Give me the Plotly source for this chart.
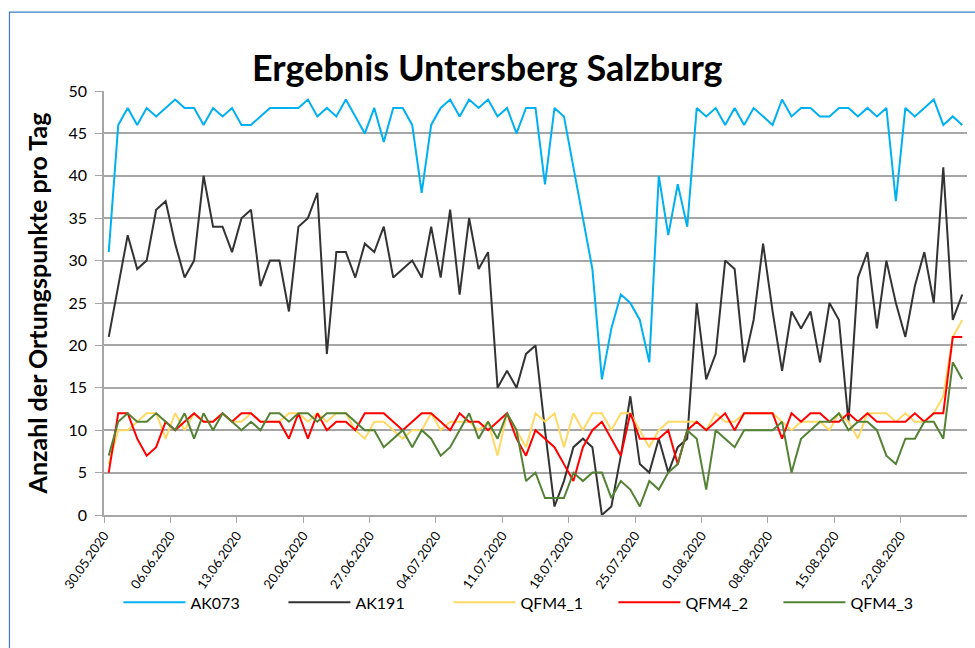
import datetime as dt
import plotly.graph_objects as go

start = dt.date(2020, 5, 30)
dates = [start + dt.timedelta(days=i) for i in range(91)]

AK073 = [31, 46, 48, 46, 48, 47, 48, 49, 48, 48, 46, 48, 47, 48, 46, 46, 47, 48, 48, 48, 48, 49, 47,
         48, 47, 49, 47, 45, 48, 44, 48, 48, 46, 38, 46, 48, 49, 47, 49, 48, 49, 47, 48, 45, 48, 48,
         39, 48, 47, 41, 35, 29, 16, 22, 26, 25, 23, 18, 40, 33, 39, 34, 48, 47, 48, 46, 48, 46,
         48, 47, 46, 49, 47, 48, 48, 47, 47, 48, 48, 47, 48, 47, 48, 37, 48, 47, 48, 49, 46, 47, 46]
AK191 = [21, 27, 33, 29, 30, 36, 37, 32, 28, 30, 40, 34, 34, 31, 35, 36, 27, 30, 30, 24, 34, 35, 38,
         19, 31, 31, 28, 32, 31, 34, 28, 29, 30, 28, 34, 28, 36, 26, 35, 29, 31, 15, 17, 15, 19, 20,
         10, 1, 4, 8, 9, 8, 0, 1, 7, 14, 6, 5, 9, 5, 8, 9, 25, 16, 19, 30, 29, 18,
         23, 32, 24, 17, 24, 22, 24, 18, 25, 23, 11, 28, 31, 22, 30, 25, 21, 27, 31, 25, 41, 23, 26]
QFM4_1 = [6, 10, 10, 11, 12, 12, 9, 12, 10, 12, 11, 11, 12, 11, 11, 12, 11, 11, 11, 12, 12, 11, 12,
          11, 12, 12, 10, 9, 11, 11, 10, 9, 10, 10, 12, 10, 11, 11, 11, 10, 11, 7, 12, 10, 8, 12,
          11, 12, 8, 12, 10, 12, 12, 10, 12, 12, 10, 8, 10, 11, 11, 11, 11, 10, 12, 11, 11, 12,
          12, 12, 12, 11, 10, 11, 11, 11, 10, 12, 11, 9, 12, 12, 12, 11, 12, 11, 11, 12, 14, 21, 23]
QFM4_2 = [5, 12, 12, 9, 7, 8, 11, 10, 11, 12, 11, 11, 12, 11, 12, 12, 11, 11, 11, 9, 12, 9, 12,
          10, 11, 11, 10, 12, 12, 12, 11, 10, 11, 12, 12, 11, 10, 12, 11, 11, 10, 11, 12, 9, 7, 10,
          9, 8, 6, 4, 8, 10, 11, 9, 7, 12, 9, 9, 9, 10, 6, 10, 11, 10, 11, 12, 10, 12,
          12, 12, 12, 9, 12, 11, 12, 12, 11, 11, 12, 11, 12, 11, 11, 11, 11, 12, 11, 12, 12, 21, 21]
QFM4_3 = [7, 11, 12, 11, 11, 12, 11, 10, 12, 9, 12, 10, 12, 11, 10, 11, 10, 12, 12, 11, 12, 12, 11,
          12, 12, 12, 11, 10, 10, 8, 9, 10, 8, 10, 9, 7, 8, 10, 12, 9, 11, 9, 12, 10, 4, 5,
          2, 2, 2, 5, 4, 5, 5, 2, 4, 3, 1, 4, 3, 5, 6, 10, 9, 3, 10, 9, 8, 10,
          10, 10, 10, 11, 5, 9, 10, 11, 11, 12, 10, 11, 11, 10, 7, 6, 9, 9, 11, 11, 9, 18, 16]

series = [("AK073", AK073, "#00B0F0"), ("AK191", AK191, "#333333"),
          ("QFM4_1", QFM4_1, "#FFD966"), ("QFM4_2", QFM4_2, "#FF0000"),
          ("QFM4_3", QFM4_3, "#548235")]

tick_dates = [start + dt.timedelta(days=7 * k) for k in range(13)]
tick_vals = [dt.datetime.combine(d, dt.time()) - dt.timedelta(hours=12) for d in tick_dates]
tick_text = [d.strftime("%d.%m.%Y") for d in tick_dates]

fig = go.Figure()
for name, vals, col in series:
    fig.add_trace(go.Scatter(x=dates, y=vals, name=name, mode="lines",
                             line=dict(color=col, width=2)))

L, R, T, B = 103.6, 8, 91, 132.5
W, H = 975, 648
pw, ph = W - L - R, H - T - B

x0 = dt.datetime.combine(start, dt.time()) - dt.timedelta(hours=12)
x1 = dt.datetime.combine(dates[-1], dt.time()) + dt.timedelta(hours=12)

fig.update_layout(
    width=W, height=H,
    margin=dict(l=L, r=R, t=T, b=B, pad=0),
    paper_bgcolor="white", plot_bgcolor="white",
    font=dict(family="Lato, sans-serif", color="#000000"),
    showlegend=True,
    legend=dict(orientation="h", x=(118 - L) / pw, xanchor="left",
                y=-(603 - (H - B)) / ph, yanchor="middle",
                font=dict(size=16), itemwidth=62, entrywidth=88, entrywidthmode="pixels",
                bgcolor="rgba(0,0,0,0)"),
    xaxis=dict(range=[x0, x1], tickmode="array", tickvals=tick_vals, ticktext=tick_text,
               tickangle=-55, tickfont=dict(size=13), showgrid=False,
               showline=True, linecolor="#A6A6A6", linewidth=1.5,
               ticks="outside", ticklen=6, tickcolor="#A6A6A6", zeroline=False),
    yaxis=dict(range=[0, 50], tickvals=list(range(0, 51, 5)), tickfont=dict(size=16),
               showgrid=True, gridcolor="#A6A6A6", gridwidth=1.5,
               showline=True, linecolor="#A6A6A6", linewidth=1.5,
               ticks="outside", ticklen=7, tickcolor="#A6A6A6", zeroline=False,
               ticklabelstandoff=5,
               title=dict(text="<b>Anzahl der Ortungspunkte pro Tag</b>",
                          font=dict(size=25), standoff=14)),
    annotations=[dict(text="<b>Ergebnis Untersberg Salzburg</b>", xref="paper", yref="paper",
                      x=(487 - L) / pw, y=1 + (T - 67) / ph, xanchor="center", yanchor="middle",
                      showarrow=False, font=dict(size=36))],
    shapes=[dict(type="rect", xref="paper", yref="paper", layer="below",
                 x0=(9 - L) / pw, x1=(990 - L) / pw,
                 y0=-(680 - (H - B)) / ph, y1=1 + (T - 12) / ph,
                 line=dict(color="#3A7FC1", width=1.2), fillcolor="rgba(0,0,0,0)")],
)

fig.write_html("out.html", config={"displayModeBar": False},
               post_script="document.body.style.margin='0';document.body.style.overflow='hidden';")
